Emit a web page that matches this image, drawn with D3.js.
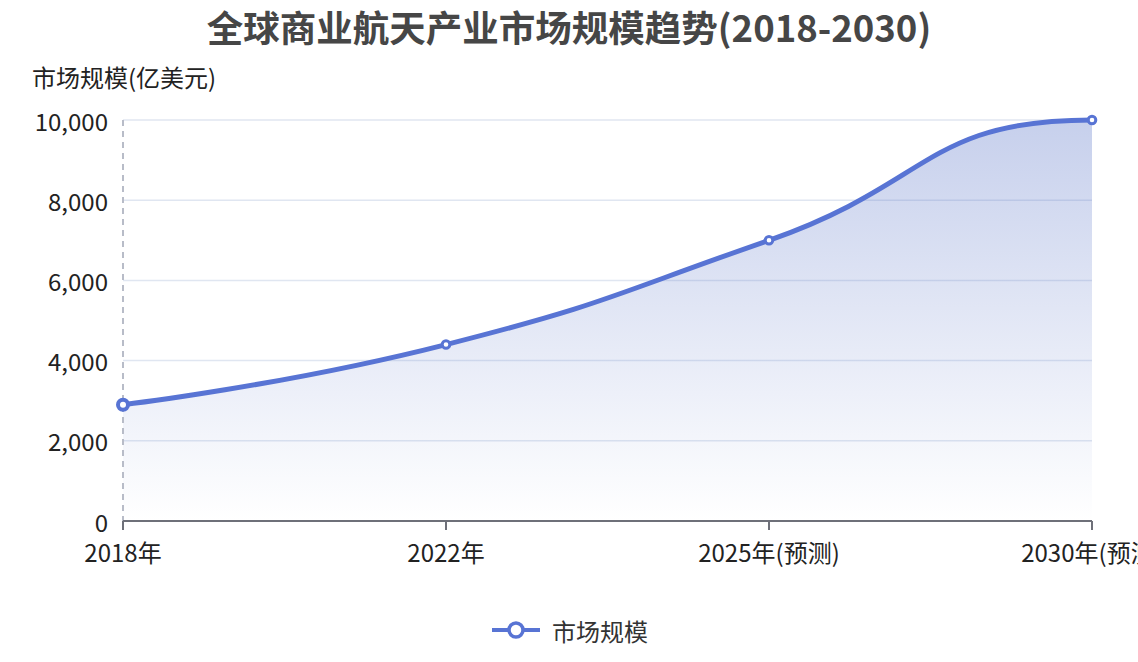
<!DOCTYPE html>
<html>
<head>
<meta charset="utf-8">
<script src="https://cdn.jsdelivr.net/npm/d3@7/dist/d3.min.js"></script>
<style>
  html, body { margin: 0; padding: 0; background: #fff; }
  svg { display: block; font-family: "Noto Sans CJK SC", "Noto Sans", sans-serif; }
</style>
</head>
<body>
<svg id="chart" width="1138" height="662"></svg>
<script>
const titleText = "全球商业航天产业市场规模趋势(2018-2030)";
const yAxisName = "市场规模(亿美元)";
const seriesName = "市场规模";
const categories = ["2018年", "2022年", "2025年(预测)", "2030年(预测)"];
const values = [2900, 4400, 7000, 10000];
const yTicks = [0, 2000, 4000, 6000, 8000, 10000];

(function () {
const W = 1138, H = 662;
const gLeft = 123, gRight = 1092, gTop = 120, gBottom = 521;
const color = "#5874d4";

const svg = d3.select("#chart");

const x = d3.scalePoint().domain(categories).range([gLeft, gRight]).padding(0);
const y = d3.scaleLinear().domain([0, 10000]).range([gBottom, gTop]);

// gradient
const defs = svg.append("defs");
const grad = defs.append("linearGradient").attr("id", "areaGrad")
  .attr("x1", 0).attr("y1", 0).attr("x2", 0).attr("y2", 1);
grad.append("stop").attr("offset", "0%").attr("stop-color", "rgb(84,112,198)").attr("stop-opacity", 0.33);
grad.append("stop").attr("offset", "100%").attr("stop-color", "rgb(84,112,198)").attr("stop-opacity", 0.0);

// grid lines
svg.append("g").selectAll("line").data(yTicks.filter(d => d > 0)).join("line")
  .attr("x1", gLeft).attr("x2", gRight)
  .attr("y1", d => y(d)).attr("y2", d => y(d))
  .attr("stroke", "#e0e6f1").attr("stroke-width", 1.5);

// y labels
svg.append("g").selectAll("text").data(yTicks).join("text")
  .attr("x", gLeft - 15).attr("y", d => y(d))
  .attr("text-anchor", "end").attr("dominant-baseline", "central")
  .attr("font-size", 24).attr("fill", "#222")
  .text(d => d3.format(",")(d));

// y axis name
svg.append("text").attr("x", 32).attr("y", 76)
  .attr("dominant-baseline", "central")
  .attr("font-size", 24).attr("fill", "#222").text(yAxisName);

// ECharts-like smooth path through points (end treated as a plateau)
function smoothPath(pts, smooth) {
  const n = pts.length;
  const ext = pts.slice();
  const last = pts[n - 1], prev = pts[n - 2];
  ext.push([last[0] + (last[0] - prev[0]), last[1]]);
  const p = d3.path();
  let cp0 = pts[0];
  p.moveTo(pts[0][0], pts[0][1]);
  for (let i = 1; i < n; i++) {
    const [px, py] = ext[i - 1];
    const [cx, cy] = ext[i];
    const [nx, ny] = ext[i + 1];
    let vx = nx - px, vy = ny - py;
    const l0 = Math.hypot(cx - px, cy - py), l1 = Math.hypot(nx - cx, ny - cy);
    const r = l1 / (l0 + l1);
    let ncx = cx + vx * smooth * r, ncy = cy + vy * smooth * r;
    ncx = Math.min(ncx, Math.max(nx, cx)); ncy = Math.min(ncy, Math.max(ny, cy));
    ncx = Math.max(ncx, Math.min(nx, cx)); ncy = Math.max(ncy, Math.min(ny, cy));
    vx = ncx - cx; vy = ncy - cy;
    let c1x = cx - vx * l0 / l1, c1y = cy - vy * l0 / l1;
    c1x = Math.min(c1x, Math.max(px, cx)); c1y = Math.min(c1y, Math.max(py, cy));
    c1x = Math.max(c1x, Math.min(px, cx)); c1y = Math.max(c1y, Math.min(py, cy));
    vx = cx - c1x; vy = cy - c1y;
    ncx = cx + vx * l1 / l0; ncy = cy + vy * l1 / l0;
    p.bezierCurveTo(cp0[0], cp0[1], c1x, c1y, cx, cy);
    cp0 = [ncx, ncy];
  }
  return p.toString();
}

const pts = categories.map((c, i) => [x(c), y(values[i])]);
const linePath = smoothPath(pts, 0.5);
const areaPath = linePath + `L${x(categories[categories.length - 1])},${y(0)}L${x(categories[0])},${y(0)}Z`;

svg.append("path").attr("d", areaPath).attr("fill", "url(#areaGrad)");

// axis pointer (dashed)
svg.append("line")
  .attr("x1", x(categories[0])).attr("x2", x(categories[0]))
  .attr("y1", gTop).attr("y2", gBottom)
  .attr("stroke", "#b8bcc8").attr("stroke-width", 2).attr("stroke-dasharray", "6,5");

// x axis
const gx = svg.append("g");
gx.append("line").attr("x1", gLeft).attr("x2", gRight).attr("y1", gBottom).attr("y2", gBottom)
  .attr("stroke", "#6e7079").attr("stroke-width", 2);
gx.selectAll("line.tick").data(categories).join("line").attr("class", "tick")
  .attr("x1", d => x(d)).attr("x2", d => x(d)).attr("y1", gBottom).attr("y2", gBottom + 9)
  .attr("stroke", "#6e7079").attr("stroke-width", 2);
gx.selectAll("text").data(categories).join("text")
  .attr("x", d => x(d)).attr("y", 551)
  .attr("text-anchor", "middle").attr("dominant-baseline", "central")
  .attr("font-size", 24).attr("fill", "#222").text(d => d);

// line
svg.append("path").attr("d", linePath).attr("fill", "none")
  .attr("stroke", color).attr("stroke-width", 5).attr("stroke-linejoin", "round");

// symbols
svg.append("g").selectAll("circle").data(categories).join("circle")
  .attr("cx", d => x(d)).attr("cy", (d, i) => y(values[i]))
  .attr("r", (d, i) => i === 0 ? 5 : 3.8)
  .attr("fill", "#fff").attr("stroke", color)
  .attr("stroke-width", (d, i) => i === 0 ? 4 : 3);

// title
svg.append("text").attr("x", W / 2).attr("y", 26)
  .attr("text-anchor", "middle").attr("dominant-baseline", "central")
  .attr("font-size", 36.5).attr("font-weight", "bold").attr("fill", "#464646")
  .text(titleText);

// legend
const lg = svg.append("g");
lg.append("line").attr("x1", 492).attr("x2", 540).attr("y1", 630).attr("y2", 630)
  .attr("stroke", color).attr("stroke-width", 4);
lg.append("circle").attr("cx", 516).attr("cy", 630).attr("r", 7)
  .attr("fill", "#fff").attr("stroke", color).attr("stroke-width", 3.5);
lg.append("text").attr("x", 552).attr("y", 630).attr("dominant-baseline", "central")
  .attr("font-size", 24).attr("fill", "#333").text(seriesName);
})();
</script>
</body>
</html>
